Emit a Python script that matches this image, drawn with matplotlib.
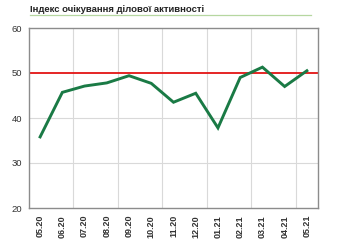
import numpy as np
import matplotlib
matplotlib.use('Agg')
import matplotlib.pyplot as plt

plt.rcParams['font.family'] = ['Liberation Sans', 'DejaVu Sans']

# monthly index values
months = ['05.20', '06.20', '07.20', '08.20', '09.20', '10.20', '11.20',
          '12.20', '01.21', '02.21', '03.21', '04.21', '05.21']
index_values = [35.8, 45.7, 47.1, 47.8, 49.4, 47.7, 43.5,
                45.5, 37.8, 49.0, 51.3, 47.0, 50.5]
threshold = 50

fig = plt.figure(figsize=(3.42, 2.42), dpi=100)
ax = fig.add_axes([29/342, 1-208/242, 289/342, 180/242])

x = np.arange(len(months))
ax.set_xlim(-0.5, len(months) - 0.5)
ax.set_ylim(20, 60)

# gridlines: horizontal at 30, 40 and vertical every two months
for y in [30, 40]:
    ax.axhline(y, color='#d9d9d9', lw=0.8, zorder=1)
for b in np.arange(1.5, len(months) - 0.5, 2):
    ax.axvline(b, color='#d9d9d9', lw=0.8, zorder=1)

ax.axhline(threshold, color='#e31414', lw=1.3, zorder=2)
ax.plot(x, index_values, color='#1a7a45', lw=2.1, solid_joinstyle='miter', zorder=3)

ax.set_yticks([20, 30, 40, 50, 60])
ax.set_xticks(x)
ax.set_xticklabels(months, rotation=90, fontsize=6.5, fontweight='bold', color='#333333')
ax.tick_params(axis='y', labelsize=6.8, colors='#333333', length=0, pad=5)
ax.tick_params(axis='x', length=0, pad=5)

for s in ax.spines.values():
    s.set_color('#8c8c8c')
    s.set_linewidth(1.0)

fig.text(30/342, 1-9/242, 'Індекс очікування ділової активності', fontsize=6.8,
         fontweight='bold', color='#222222', va='center', ha='left')
fig.add_artist(plt.Line2D([30/342, 311/342], [1-15/242, 1-15/242], color='#b6d7a0', lw=0.9))

fig.savefig('out.png', dpi=100)
